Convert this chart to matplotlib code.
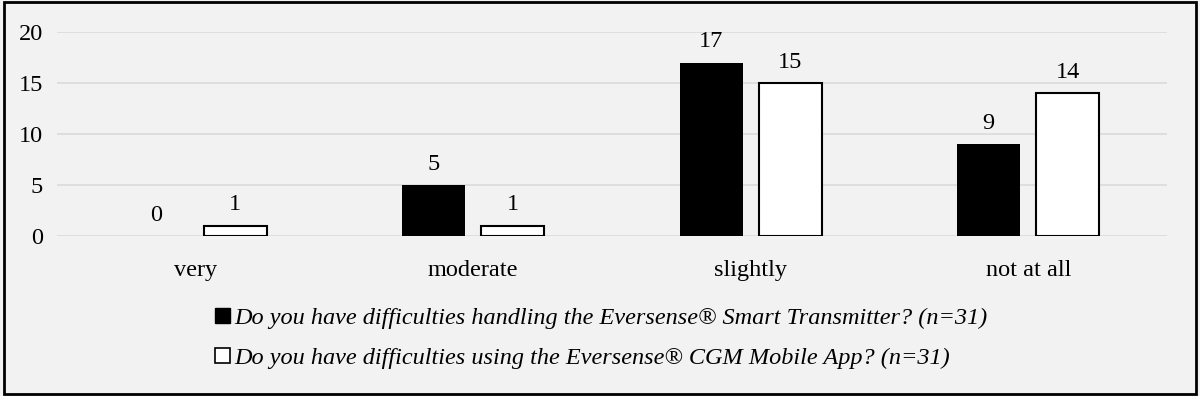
import matplotlib
matplotlib.use('Agg')
import matplotlib.pyplot as plt
import numpy as np
from matplotlib.patches import Patch, Rectangle

plt.rcParams['font.family'] = ['Liberation Serif', 'DejaVu Serif']

# data
categories = ['very', 'moderate', 'slightly', 'not at all']
transmitter = [0, 5, 17, 9]
mobile_app = [1, 1, 15, 14]
legend_labels = ['Do you have difficulties handling the Eversense\u00ae Smart Transmitter? (n=31)',
                 'Do you have difficulties using the Eversense\u00ae CGM Mobile App? (n=31)']

fig = plt.figure(figsize=(12, 3.96), dpi=100)
fig.patch.set_facecolor('#f2f2f2')
ax = fig.add_axes([0.0475, 0.404, 0.925, 0.515])
ax.set_facecolor('#f2f2f2')

x = np.arange(len(categories))
w = 0.227
off = 0.1425
b1 = ax.bar(x - off, transmitter, w, color='black', linewidth=0, zorder=3)
b2 = ax.bar(x + off, mobile_app, w, color='white', edgecolor='black', linewidth=1.5, zorder=3)

for bars, vals in ((b1, transmitter), (b2, mobile_app)):
    for r, v in zip(bars, vals):
        ax.annotate(str(v), (r.get_x() + r.get_width() / 2, v), xytext=(0, 7.5),
                    textcoords='offset points', ha='center', va='bottom', fontsize=17.5)

ax.set_xlim(-0.5, 3.5)
ax.set_ylim(0, 20)
ax.set_yticks([0, 5, 10, 15, 20])
ax.set_xticks(x)
ax.set_xticklabels(categories)
ax.tick_params(axis='both', length=0, labelsize=17.5)
ax.tick_params(axis='x', pad=17)
ax.tick_params(axis='y', pad=10)
ax.yaxis.grid(True, color='#dcdcdc', linewidth=1.3, zorder=0)
ax.set_axisbelow(True)
for s in ax.spines.values():
    s.set_visible(False)

handles = [Patch(facecolor='black', edgecolor='black'),
           Patch(facecolor='white', edgecolor='black', linewidth=1.2)]
leg = fig.legend(handles, legend_labels, loc='upper left', bbox_to_anchor=(0.161, 0.278),
                 frameon=False, handlelength=0.6, handleheight=0.6, handletextpad=0.2,
                 labelspacing=0.78, prop={'family': 'Liberation Serif', 'style': 'italic', 'size': 17.5})

fig.add_artist(Rectangle((0.003, 0.006), 0.994, 0.988, transform=fig.transFigure,
                         fill=False, edgecolor='black', linewidth=2))

fig.savefig('out.png', dpi=100, facecolor=fig.get_facecolor())
